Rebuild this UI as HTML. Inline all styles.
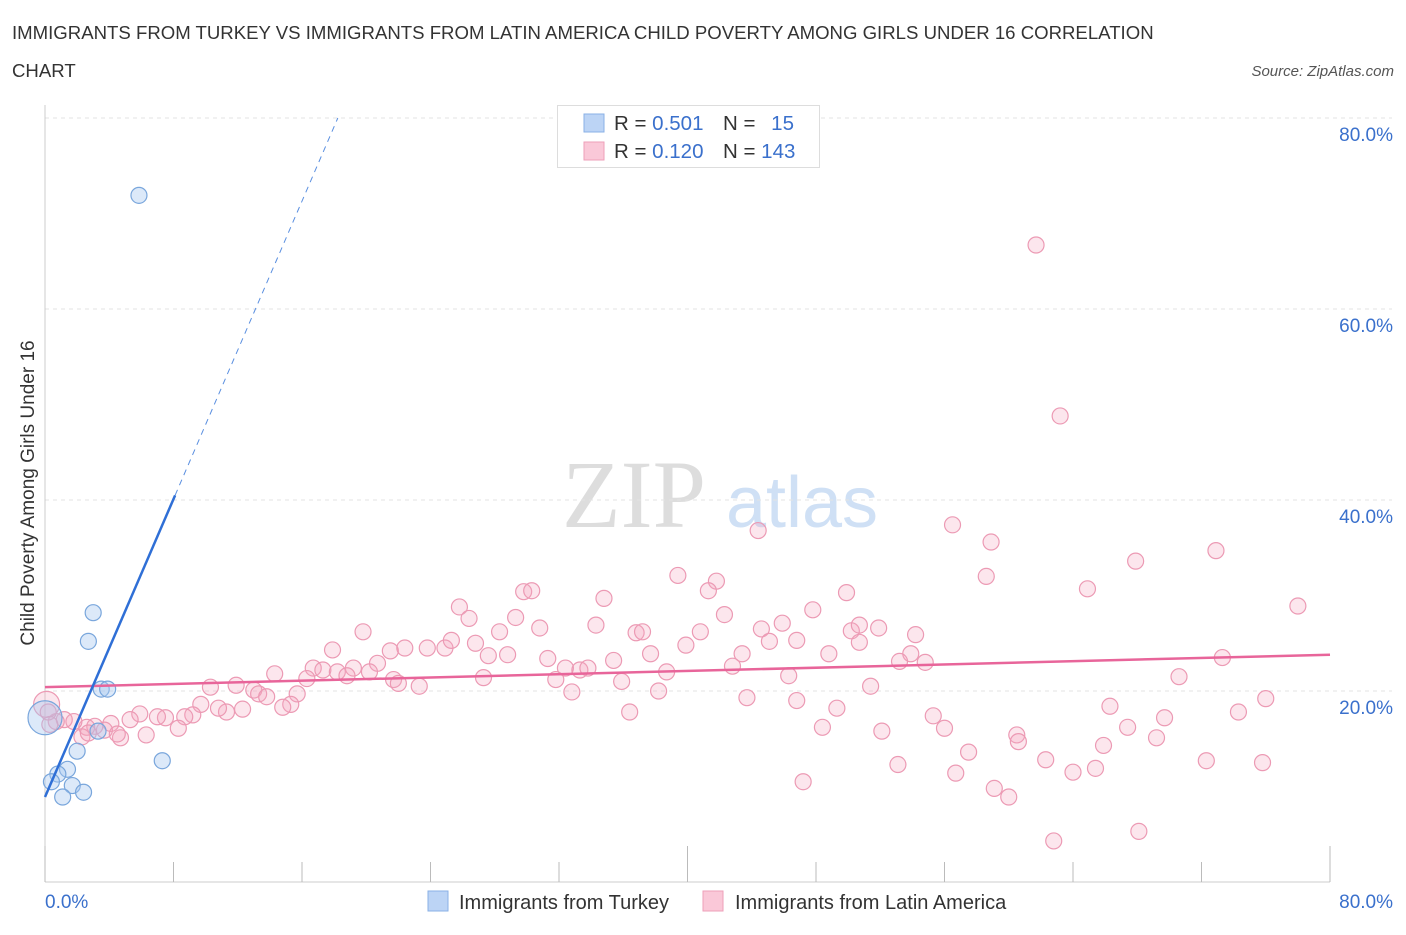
<!DOCTYPE html>
<html><head><meta charset="utf-8">
<style>
body{margin:0;background:#fff;font-family:"Liberation Sans",sans-serif;}
svg text{font-family:"Liberation Sans",sans-serif;}
</style></head>
<body>
<svg id="chart" width="1406" height="930" viewBox="0 0 1406 930">
<text x="12" y="39" font-size="18.6" fill="#333">IMMIGRANTS FROM TURKEY VS IMMIGRANTS FROM LATIN AMERICA CHILD POVERTY AMONG GIRLS UNDER 16 CORRELATION</text>
<text x="12" y="77" font-size="18.6" fill="#333">CHART</text>
<text x="1394" y="76" font-size="15" fill="#555" font-style="italic" text-anchor="end">Source: ZipAtlas.com</text>
<g>
<text x="634" y="527" font-size="96" fill="#ddd" text-anchor="middle" font-family="Liberation Serif" style="font-family:'Liberation Serif',serif">ZIP</text>
<text x="802" y="527" font-size="72" fill="#cfe0f5" text-anchor="middle">atlas</text>
</g>
<g id="grid"></g>
<g id="axes"></g>
<g id="marks"></g>
<g>
<rect x="557.5" y="105.5" width="262" height="62" fill="#fff" stroke="#ddd"/>
<rect x="584" y="114" width="20" height="18" fill="#bcd4f5" stroke="#8ab0e6"/>
<rect x="584" y="142" width="20" height="18" fill="#fac8d8" stroke="#ee9fb9"/>
<text x="614" y="130" font-size="20.5" fill="#333">R = <tspan fill="#3a70cc">0.501</tspan></text>
<text x="723" y="130" font-size="20.5" fill="#333">N = <tspan fill="#3a70cc" dx="10">15</tspan></text>
<text x="614" y="158" font-size="20.5" fill="#333">R = <tspan fill="#3a70cc">0.120</tspan></text>
<text x="723" y="158" font-size="20.5" fill="#333">N = <tspan fill="#3a70cc">143</tspan></text>
</g>
<g>
<rect x="428" y="891" width="20" height="20" fill="#bcd4f5" stroke="#8ab0e6"/>
<text x="459" y="909" font-size="20" fill="#333">Immigrants from Turkey</text>
<rect x="703" y="891" width="20" height="20" fill="#fac8d8" stroke="#ee9fb9"/>
<text x="735" y="909" font-size="20" fill="#333">Immigrants from Latin America</text>
</g>
<text x="34" y="493" font-size="19" fill="#333" text-anchor="middle" transform="rotate(-90 34 493)">Child Poverty Among Girls Under 16</text>
</svg>
<script>
const yTicks=[20,40,60,80];
const yTickLabels=["20.0%","40.0%","60.0%","80.0%"];
const xTicks=[0,8,16,24,32,40,48,56,64,72,80];
const turkeyX=[5.85,3.0,2.7,3.5,3.9,3.3,2.0,1.4,0.8,0.4,1.7,1.1,2.4,7.3,0];
const turkeyY=[71.9,28.2,25.2,20.2,20.2,15.8,13.7,11.8,11.3,10.5,10.1,8.9,9.4,12.7,17.2];
const latinX=[61.7,63.2,56.5,44.4,58.9,67.9,72.9,39.4,41.8,58.6,64.9,49.9,29.8,30.3,34.8,41.3,78.0,25.8,26.4,29.3,42.3,47.8,34.3,30.8,36.8,37.2,40.8,50.2,50.7,51.9,54.2,44.6,45.9,19.8,28.3,17.9,21.5,22.4,23.8,24.9,25.3,26.8,28.8,27.6,31.3,32.4,33.3,33.8,35.4,37.7,39.9,43.4,45.1,46.8,48.8,50.7,53.9,54.8,53.2,73.3,20.7,19.2,16.7,17.3,18.2,18.8,20.2,21.7,22.0,23.3,27.3,31.8,35.9,38.7,42.8,46.3,51.4,70.6,14.3,16.3,10.3,11.9,13.0,13.3,13.8,15.7,15.3,14.8,12.3,11.3,10.8,9.7,9.2,8.7,7.5,7.0,5.9,5.3,4.1,3.7,3.1,2.6,1.8,1.2,0.7,0.1,0.2,0.3,2.3,2.7,4.7,4.5,6.3,8.3,32.8,36.4,38.2,43.7,46.8,49.3,55.3,56.0,66.3,69.7,74.3,76.0,48.4,52.1,60.5,60.6,67.4,69.2,57.5,65.9,53.1,62.3,64.0,65.4,72.3,75.8,56.7,47.2,59.1,60.0,62.8,68.1];
const latinY=[66.7,48.8,37.4,36.8,35.6,33.6,34.7,32.1,31.5,32.0,30.7,30.3,30.4,30.5,29.7,30.5,28.9,28.8,27.6,27.7,28.0,28.5,26.9,26.6,26.1,26.2,26.2,26.3,26.9,26.6,25.9,26.5,27.1,26.2,26.2,24.3,24.2,24.5,24.5,24.5,25.3,25.0,23.8,23.7,23.4,22.4,22.2,22.4,23.2,23.9,24.8,23.9,25.2,25.3,23.9,25.1,23.9,23.0,23.1,23.5,22.9,22.4,22.4,22.2,22.0,21.6,22.0,21.2,20.8,20.5,21.4,21.2,21.0,22.0,22.6,21.6,20.5,21.5,21.8,21.3,20.4,20.6,20.1,19.7,19.4,19.7,18.6,18.3,18.1,17.8,18.2,18.6,17.5,17.3,17.2,17.3,17.6,17.0,16.6,15.9,16.3,16.2,16.8,17.0,16.8,18.6,17.8,16.5,15.2,15.6,15.1,15.5,15.4,16.1,19.9,17.8,20.0,19.3,19.0,18.2,17.4,16.1,18.4,17.2,17.8,19.2,16.2,15.8,15.4,14.7,16.2,15.1,13.6,14.3,12.3,12.8,11.5,11.9,12.7,12.5,11.4,10.5,9.8,8.9,4.3,5.3];
const turkeyFit=[8.9,3.9]; // intercept, slope
const latinFit=[20.4,0.0425];
const NS="http://www.w3.org/2000/svg";
const X0=45,X1=1330,Y0=882,Y1=118;
const xs=v=>X0+(v/80)*(X1-X0);
const ys=v=>Y0-(v/80)*(Y0-Y1);
function mk(tag,attrs,parent){const e=document.createElementNS(NS,tag);for(const k in attrs)e.setAttribute(k,attrs[k]);parent.appendChild(e);return e;}
const grid=document.getElementById('grid'),axes=document.getElementById('axes'),marks=document.getElementById('marks');
yTicks.forEach((t,i)=>{
 const l=mk('line',{x1:X0,x2:1392,y1:ys(t),y2:ys(t),stroke:'#e3e3e3','stroke-dasharray':'4 4'},grid);
 
 
 const tx=mk('text',{x:1393,y:ys(t)+23,'font-size':19,fill:'#3a70cc','text-anchor':'end'},axes);
 tx.textContent=yTickLabels[i];
 
 
});
const ax=mk('line',{x1:X0,x2:X0,y1:105,y2:Y0,stroke:'#ccc'},axes);


const bx=mk('line',{x1:X0,x2:X1,y1:Y0,y2:Y0,stroke:'#ccc'},axes);


xTicks.forEach(t=>{
 const l=mk('line',{x1:xs(t),x2:xs(t),y1:Y0,y2:t%40===0?846:862,stroke:'#bbb'},axes);
 
 
});
const xl=mk('text',{x:45,y:908,'font-size':19,fill:'#3a70cc'},axes);xl.textContent='0.0%';


const xr=mk('text',{x:1393,y:908,'font-size':19,fill:'#3a70cc','text-anchor':'end'},axes);xr.textContent='80.0%';


latinX.forEach((x,i)=>{
 const big=i===105;
 const c=mk('circle',{cx:xs(x),cy:ys(latinY[i]),r:big?13:8,fill:'rgba(244,166,191,0.28)',stroke:'#ec9ab4','stroke-width':1.2},marks);
 
 
});
turkeyX.forEach((x,i)=>{
 const big=i===14;
 const c=mk('circle',{cx:xs(x),cy:ys(turkeyY[i]),r:big?17:8,fill:'rgba(168,200,240,0.4)',stroke:'#79a6dc','stroke-width':1.2},marks);
 
 
});
const lf=x=>latinFit[0]+latinFit[1]*x;
const pl=mk('line',{x1:xs(0),y1:ys(lf(0)),x2:xs(80),y2:ys(lf(80)),stroke:'#e8659a','stroke-width':2.5},marks);


const tf=x=>turkeyFit[0]+turkeyFit[1]*x;
const xEnd=(80-turkeyFit[0])/turkeyFit[1];
const bl=mk('line',{x1:xs(0),y1:ys(tf(0)),x2:xs(8.1),y2:ys(tf(8.1)),stroke:'#2f6fd6','stroke-width':2.5},marks);


const bd=mk('line',{x1:xs(8.1),y1:ys(tf(8.1)),x2:xs(xEnd),y2:ys(80),stroke:'#5a8fe0','stroke-width':1,'stroke-dasharray':'6 5'},marks);


</script>
</body></html>
